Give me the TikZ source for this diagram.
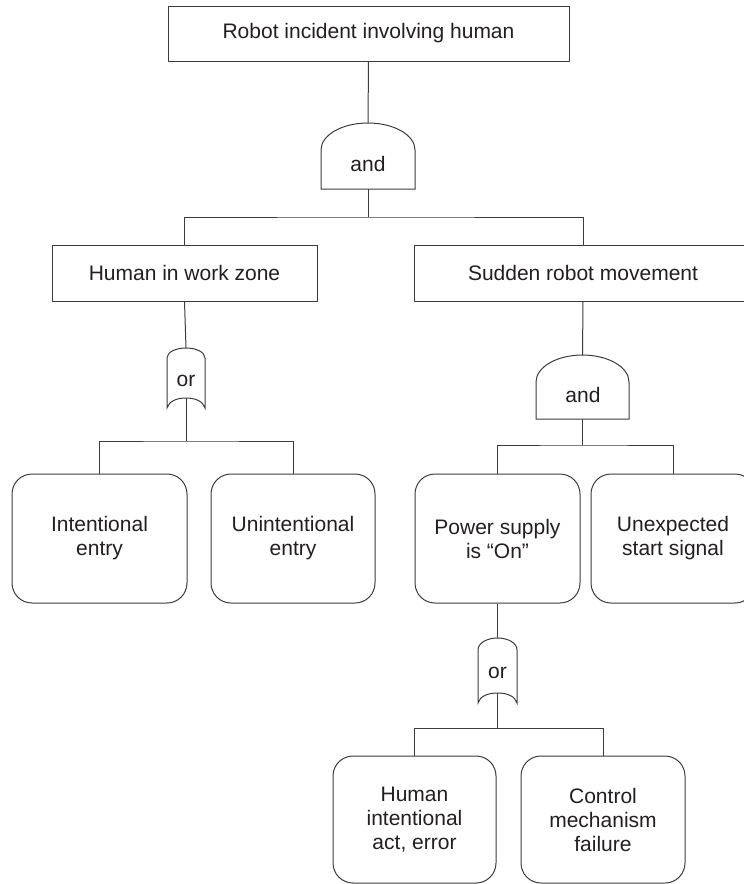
\documentclass[tikz,border=0pt]{standalone}
\usepackage{fontspec}
\setmainfont{Liberation Sans}
\definecolor{lc}{RGB}{60,60,60}
\definecolor{tc}{RGB}{35,31,32}
\begin{document}
\begin{tikzpicture}[x=1pt,y=-1pt,
  evt/.style={draw=lc, line width=1pt, rectangle, inner sep=0pt, align=center,
    font=\fontsize{21}{24}\selectfont, text=tc},
  basic/.style={evt, rounded corners=20pt},
  lbl/.style={inner sep=0pt, font=\fontsize{21}{24}\selectfont, text=tc},
  conn/.style={draw=lc, line width=1pt},
  gate/.style={draw=lc, line width=1pt, fill=white, line join=miter}]
\useasboundingbox (0,0) rectangle (744,884);
\fill[white] (0,0) rectangle (744,884);
\clip (0,0) rectangle (744,884);

% events
\node[evt, minimum width=401pt, minimum height=55pt] (top) at (368.5,33.5) {Robot incident involving human};
\node[evt, minimum width=265pt, minimum height=56pt] (hw) at (184.5,273) {Human in work zone};
\node[evt, minimum width=338pt, minimum height=56pt] (srm) at (583,273) {Sudden robot movement};
\node[basic, minimum width=175pt, minimum height=129pt] (ie) at (99.5,538.5) {Intentional\\entry};
\node[basic, minimum width=164pt, minimum height=129pt] (ue) at (293,538.5) {Unintentional\\entry};
\node[basic, minimum width=165pt, minimum height=129pt] (ps) at (497.5,538.5) {Power supply\\is “On”};
\node[basic, minimum width=164pt, minimum height=129pt] (us) at (673,538.5) {Unexpected\\start signal};
\node[basic, minimum width=163pt, minimum height=127pt] (hi) at (414.5,819.5) {Human\\intentional\\act, error};
\node[basic, minimum width=164pt, minimum height=127pt] (cm) at (603,819.5) {Control\\mechanism\\failure};

% gate 1 (and)
\draw[gate] (321,189) -- (321,150) .. controls (321,135) and (342,123) .. (368,123)
  .. controls (394,123) and (415,135) .. (415,150) -- (415,189) -- cycle;
\node[lbl] (and1) at (368,163.5) {and};
\coordinate (and1t) at (368,123);
\coordinate (and1b) at (368,189);
\coordinate (bar1) at (368,217);

% gate 2 (and)
\draw[gate] (536,419) -- (536,382) .. controls (536,367) and (557,355) .. (582.5,355)
  .. controls (608,355) and (629,367) .. (629,382) -- (629,419) -- cycle;
\node[lbl] (and2) at (583,394.5) {and};
\coordinate (and2t) at (582.5,355);
\coordinate (and2b) at (582.5,419);
\coordinate (bar3) at (582.5,445);

% gate 3 (or)
\draw[gate] (167,408) -- (167,358) .. controls (167,352) and (176,348) .. (186,348)
  .. controls (196,348) and (205,352) .. (205,358) -- (205,408)
  .. controls (203,401) and (195,398) .. (186,398)
  .. controls (177,398) and (169,401) .. (167,408) -- cycle;
\node[lbl] (or1) at (186,381) {or};
\coordinate (or1t) at (186,348);
\coordinate (or1b) at (186,398);
\coordinate (bar2) at (186,441);

% gate 4 (or)
\draw[gate] (478,703) -- (478,650) .. controls (478,643) and (487,638) .. (497.5,638)
  .. controls (508,638) and (517,643) .. (517,650) -- (517,703)
  .. controls (515,696) and (507,693) .. (497.5,693)
  .. controls (488,693) and (480,696) .. (478,703) -- cycle;
\node[lbl] (or2) at (497.5,672.5) {or};
\coordinate (or2t) at (497.5,638);
\coordinate (or2b) at (497.5,693);
\coordinate (bar4) at (497.5,728);

% connectors
\draw[conn] (top.south) -- (and1t);
\draw[conn] (and1b) -- (bar1);
\draw[conn] (hw.north) |- (bar1) -| (srm.north);
\draw[conn] (hw.south) -- (or1t);
\draw[conn] (or1b) -- (bar2);
\draw[conn] (ie.north) |- (bar2) -| (ue.north);
\draw[conn] (srm.south) -- (and2t);
\draw[conn] (and2b) -- (bar3);
\draw[conn] (ps.north) |- (bar3) -| (us.north);
\draw[conn] (ps.south) -- (or2t);
\draw[conn] (or2b) -- (bar4);
\draw[conn] (hi.north) |- (bar4) -| (cm.north);
\end{tikzpicture}
\end{document}
